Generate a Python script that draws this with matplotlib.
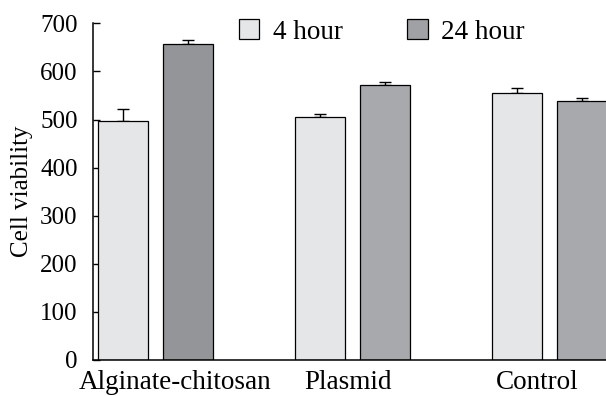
import matplotlib
matplotlib.use("Agg")
import matplotlib.pyplot as plt
import numpy as np

groups = ["Alginate-chitosan", "Plasmid", "Control"]
series = ["4 hour", "24 hour"]
vals_4h = [497, 506, 555]
err_4h = [25, 6, 10]
vals_24h = [656, 572, 539]
err_24h = [10, 6, 5]

plt.rcParams['font.family'] = ['Liberation Serif', 'DejaVu Serif']

fig = plt.figure(figsize=(6.06, 3.96), dpi=100)
ax = fig.add_axes([93 / 606, 1 - 360 / 396, 1 - 93 / 606, 336.7 / 396])

x = np.arange(len(groups))
w = 0.254
off = 0.166
c4 = ['#e5e6e8'] * 3
c24 = ['#939598', '#a7a9ac', '#a7a9ac']

b1 = ax.bar(x - off, vals_4h, w, color=c4, edgecolor='black', linewidth=0.9, zorder=2)
b2 = ax.bar(x + off, vals_24h, w, color=c24, edgecolor='black', linewidth=0.9, zorder=2)
ax.errorbar(x - off, vals_4h, yerr=[np.zeros(3), err_4h], fmt='none', ecolor='black',
            elinewidth=1, capsize=4, capthick=1, zorder=1)
ax.errorbar(x + off, vals_24h, yerr=[np.zeros(3), err_24h], fmt='none', ecolor='black',
            elinewidth=1, capsize=4, capthick=1, zorder=1)

ax.set_xlim(-0.316, 2.288)
ax.set_ylim(0, 700)
ax.set_yticks(range(0, 701, 100))
ax.tick_params(axis='y', direction='in', length=5, width=1, labelsize=18, pad=11)
# labels sit a little off the pair centres in the original
ax.set_xticks(x + np.array([0.10, -0.02, -0.06]))
ax.set_xticklabels(groups, fontsize=19.5)
ax.tick_params(axis='x', length=0, pad=7)
for s in ['top', 'right']:
    ax.spines[s].set_visible(False)
for s in ['left', 'bottom']:
    ax.spines[s].set_linewidth(1.1)

ax.set_ylabel("Cell viability", fontsize=18)
ax.yaxis.set_label_coords(-0.117, 0.5)

swatch1 = plt.Rectangle((0, 0), 1, 1, facecolor='#e5e6e8', edgecolor='black', linewidth=0.9)
swatch2 = plt.Rectangle((0, 0), 1, 1, facecolor='#a0a1a4', edgecolor='black', linewidth=0.9)
fig.legend([swatch1, swatch2], series, loc='center left',
           bbox_to_anchor=(239 / 606, 1 - 32 / 396), ncol=2, frameon=False,
           fontsize=19.5, handlelength=0.74, handleheight=0.74, handletextpad=0.5,
           columnspacing=2.4, borderpad=0, borderaxespad=0)

fig.savefig("out.png", dpi=100)
